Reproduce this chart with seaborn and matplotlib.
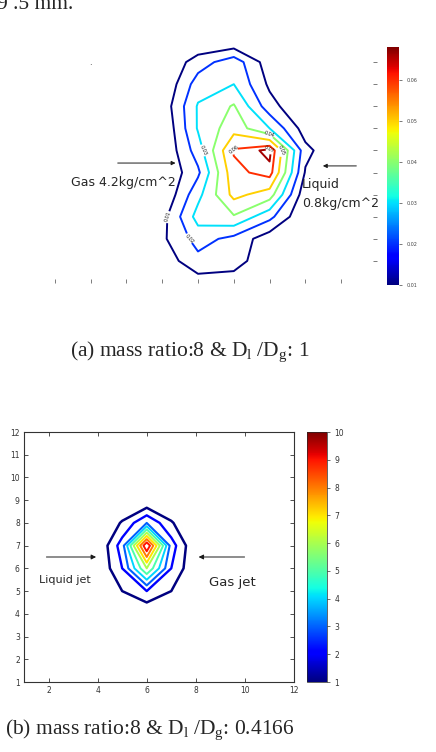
import numpy as np
import matplotlib
matplotlib.use('Agg')
import matplotlib.pyplot as plt
from matplotlib.colors import Normalize
from matplotlib.cm import ScalarMappable
import seaborn as sns

# (a) mass ratio 8, Dl/Dg = 1 -- grid
x_a = [3, 4, 5, 6, 7, 8, 9]
y_a = [0, 1, 2, 3, 4, 5, 6, 7, 8, 9, 10, 11]
z_a = [
    [0, 0,     0.005, 0.003, 0,     0,     0],
    [0, 0.004, 0.017, 0.016, 0,     0,     0],
    [0, 0.008, 0.024, 0.017, 0.004, 0,     0],
    [0, 0.006, 0.034, 0.039, 0.023, 0,     0],
    [0, 0,     0.027, 0.053, 0.045, 0.003, 0],
    [0, 0,     0.018, 0.057, 0.064, 0.009, 0],
    [0, 0,     0.025, 0.061, 0.068, 0.013, 0],
    [0, 0,     0.031, 0.046, 0.030, 0.005, 0],
    [0, 0.003, 0.031, 0.041, 0.014, 0,     0],
    [0, 0,     0.025, 0.030, 0.008, 0,     0],
    [0, 0,     0.015, 0.026, 0.004, 0,     0],
    [0, 0,     0,     0,     0,     0,     0],
]
levels_a = [0.01, 0.02, 0.03, 0.04, 0.05, 0.06, 0.066]
cbar_ticks_a = [0.01, 0.02, 0.03, 0.04, 0.05, 0.06]

# (b) mass ratio 8, Dl/Dg = 0.4166
x_b = list(range(1, 13))
y_b = list(range(1, 13))
z_b = np.zeros((12, 12))
# (x, y) -> value, everything else is zero
peak_b = {
    (6, 7): 10, (6, 6): 6, (6, 5): 2, (6, 8): 3,
    (5, 7): 2.5, (7, 7): 2.5, (5, 6): 2, (7, 6): 2,
    (5, 8): 1.1, (7, 8): 1.1, (5, 5): 1, (7, 5): 1,
}
for (xx, yy), v in peak_b.items():
    z_b[yy - 1, xx - 1] = v
levels_b = [1, 2, 3, 4, 5, 6, 7, 8, 9]
cbar_ticks_b = list(range(1, 11))

sns.set_theme(style='white')
plt.rcParams['font.family'] = ['DejaVu Sans']
plt.rcParams['mathtext.fontset'] = 'custom'
plt.rcParams['mathtext.rm'] = 'Liberation Serif'
plt.rcParams['mathtext.it'] = 'Liberation Serif:italic'

W, H = 436, 752
fig = plt.figure(figsize=(W / 100, H / 100), dpi=100)

def box(l, t, r, b):
    return [l / W, 1 - b / H, (r - l) / W, (b - t) / H]

# ---------------- panel (a) ----------------
ax_a = fig.add_axes(box(19, 40, 377, 283))
norm_a = Normalize(vmin=0.01, vmax=0.068)
cs_a = ax_a.contour(x_a, y_a, np.array(z_a), levels=levels_a, cmap='jet',
                    norm=norm_a, linewidths=1.4)
ax_a.clabel(cs_a, inline=True, fontsize=3.5, fmt='%.2f', colors='k', inline_spacing=1)
ax_a.set_xlim(0, 10)
ax_a.set_ylim(0, 11)
ax_a.set_xticks(range(1, 10))
ax_a.set_yticks(range(1, 11))
for s in ax_a.spines.values():
    s.set_visible(False)
ax_a.tick_params(direction='in', length=3, width=0.6, colors='#666666',
                 bottom=True, right=True, left=False, top=False,
                 labelbottom=False, labelleft=False)

ax_a.annotate('', xy=(4.45, 5.43), xytext=(2.68, 5.43),
              arrowprops=dict(arrowstyle='-|>', color='k', lw=0.7, mutation_scale=6))
ax_a.text(1.45, 4.57, 'Gas 4.2kg/cm^2', fontsize=9, va='center', ha='left')
ax_a.annotate('', xy=(8.41, 5.3), xytext=(9.5, 5.3),
              arrowprops=dict(arrowstyle='-|>', color='k', lw=0.7, mutation_scale=6),
              annotation_clip=False)
ax_a.text(7.9, 4.44, 'Liquid', fontsize=9, va='center', ha='left')
ax_a.text(7.9, 3.62, '0.8kg/cm^2', fontsize=9, va='center', ha='left')
ax_a.text(2.0, 10.0, '.', fontsize=6, ha='center', va='center')

cax_a = fig.add_axes(box(387, 47, 399, 285))
cb_a = fig.colorbar(ScalarMappable(norm=norm_a, cmap='jet'), cax=cax_a)
cb_a.set_ticks(cbar_ticks_a)
cb_a.ax.set_yticklabels(['%.2f' % t for t in cbar_ticks_a])
cb_a.ax.tick_params(labelsize=3.5, length=2, width=0.5, colors='#444444')
cb_a.outline.set_visible(False)

fig.text(190 / W, 1 - 352 / H, r'(a) mass ratio:8 & D$_\mathrm{l}$ /D$_\mathrm{g}$: 1',
         ha='center', va='center', fontsize=15.5, family='Liberation Serif')

# ---------------- panel (b) ----------------
ax_b = fig.add_axes(box(24, 432, 294, 682))
norm_b = Normalize(vmin=1, vmax=10)
ax_b.contour(x_b, y_b, z_b, levels=levels_b, cmap='jet', norm=norm_b,
             linewidths=[1.8, 1.7, 1.5, 1.4, 1.4, 1.4, 1.4, 1.4, 1.4])
ax_b.set_xlim(1, 12)
ax_b.set_ylim(1, 12)
ax_b.set_xticks(range(2, 13, 2))
ax_b.set_yticks(range(1, 13))
for s in ax_b.spines.values():
    s.set_color('#333333')
    s.set_linewidth(0.8)
ax_b.tick_params(direction='in', length=3, width=0.6, labelsize=5.5, pad=3,
                 top=True, right=True, bottom=True, left=True, colors='#333333')
ax_b.grid(False)

ax_b.annotate('', xy=(4.05, 6.5), xytext=(1.8, 6.5),
              arrowprops=dict(arrowstyle='-|>', color='k', lw=0.7, mutation_scale=7))
ax_b.annotate('', xy=(8.0, 6.5), xytext=(10.1, 6.5),
              arrowprops=dict(arrowstyle='-|>', color='k', lw=0.7, mutation_scale=7))
ax_b.text(1.63, 5.49, 'Liquid jet', fontsize=8, va='center', ha='left')
ax_b.text(8.53, 5.36, 'Gas jet', fontsize=9.5, va='center', ha='left')

cax_b = fig.add_axes(box(307, 432, 327, 682))
cb_b = fig.colorbar(ScalarMappable(norm=norm_b, cmap='jet'), cax=cax_b)
cb_b.set_ticks(cbar_ticks_b)
cb_b.ax.tick_params(labelsize=5.5, length=2, width=0.5, colors='#333333')
cb_b.outline.set_linewidth(0.5)

fig.text(150 / W, 1 - 730 / H, r'(b) mass ratio:8 & D$_\mathrm{l}$ /D$_\mathrm{g}$: 0.4166',
         ha='center', va='center', fontsize=15.5, family='Liberation Serif')

# cut-off line of body text at the very top
fig.text(-0.006, 1 - 9 / H, '9 .5 mm.', ha='left', va='baseline', fontsize=15.5,
         family='Liberation Serif')

fig.savefig('out.png', dpi=100, facecolor='white')
